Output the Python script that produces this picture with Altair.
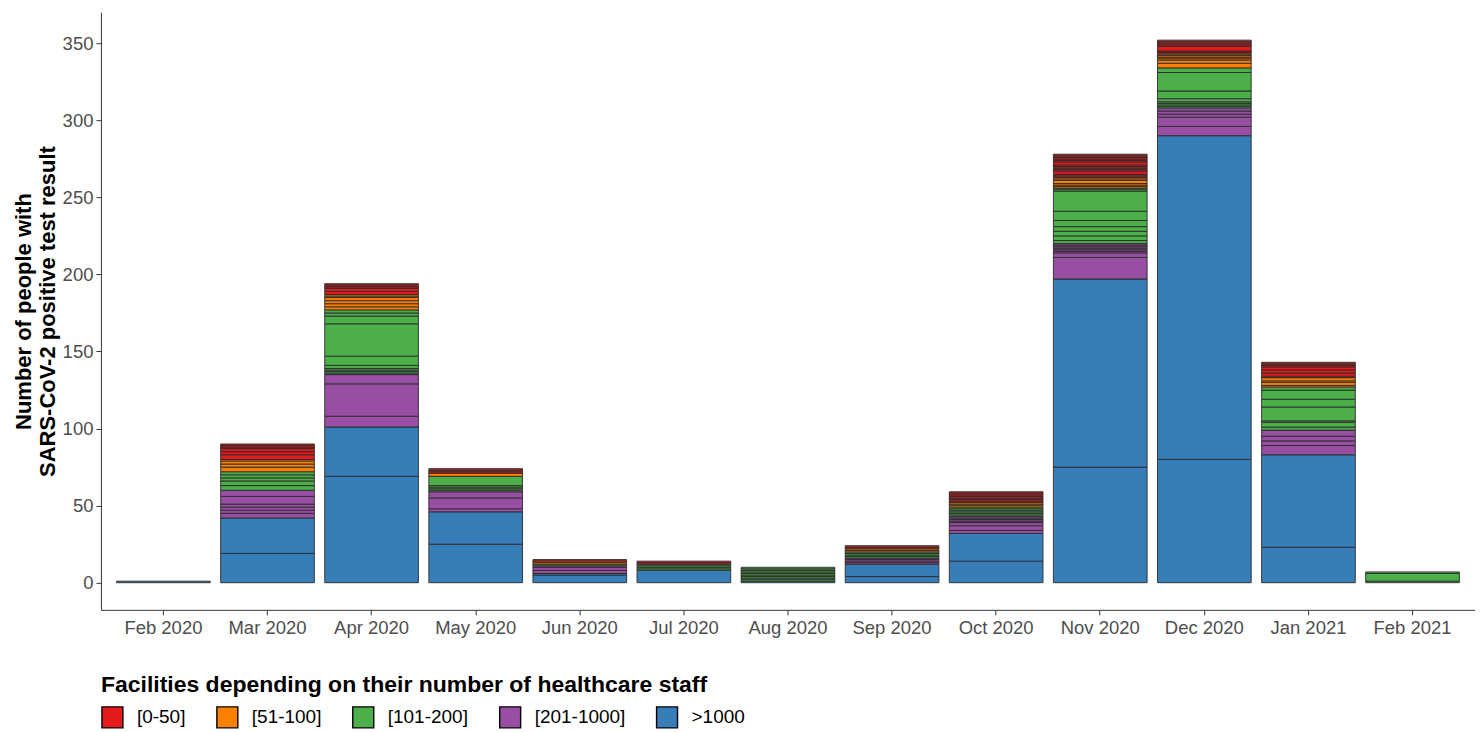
import altair as alt
import pandas as pd

months = ["Feb 2020", "Mar 2020", "Apr 2020", "May 2020", "Jun 2020", "Jul 2020",
          "Aug 2020", "Sep 2020", "Oct 2020", "Nov 2020", "Dec 2020", "Jan 2021", "Feb 2021"]

categories = ["[0-50]", "[51-100]", "[101-200]", "[201-1000]", ">1000"]
colors = ["#E41A1C", "#FF7F00", "#4DAF4A", "#984EA3", "#377EB8"]

# facility-level segments per month (one list per month), per staff-size category
seg_gt1000 = [[1], [19, 23], [69, 32], [25, 21], [5, 1], [8], [1], [4, 8], [14, 18],
              [75, 122], [80, 210], [23, 60], []]
seg_201_1000 = [[], [3, 2, 2, 2, 5, 4], [7, 21, 6], [2, 7, 4], [2, 2, 1], [], [], [1, 1, 1, 1],
                [2, 3, 2, 1, 1, 1, 1], [14, 3, 1, 1, 1, 1, 1, 1], [6, 6, 2, 2, 2], [6, 3, 3, 4], []]
seg_101_200 = [[], [3, 3, 2, 2, 2], [1, 1, 1, 1, 2, 6, 21, 5, 2, 2], [1, 1, 1, 1, 6], [1],
               [1, 1, 1, 1], [1, 1, 1, 1, 1, 1, 1, 1, 1], [1, 1, 1, 1], [1, 1, 1, 1, 1, 1],
               [2, 3, 3, 3, 4, 6, 13, 1, 1], [1, 1, 1, 1, 2, 5, 12, 3], [2, 3, 1, 9, 5, 6, 2], [1, 5, 1]]
seg_51_100 = [[], [3, 2, 2, 1], [2, 2, 2, 2, 1, 1], [2], [1, 1], [], [], [1, 1], [1, 1, 1],
              [1, 1, 1, 2, 1, 1], [3, 2, 1, 1, 1, 1], [1, 2, 1, 2], []]
seg_0_50 = [[], [3, 2, 2, 1, 1, 1], [2, 2, 1, 1, 1], [1, 1, 1], [1], [1, 1], [], [1, 1],
            [1, 1, 1, 1, 1, 1, 1], [1, 1, 2, 1, 1, 1, 1, 2, 1, 1, 1, 1, 1],
            [1, 1, 3, 1, 1, 1, 1], [1, 2, 2, 2, 1, 1, 1], []]

# stacking from bottom: >1000, 201-1000, 101-200, 51-100, 0-50
stack_groups = [(">1000", seg_gt1000), ("[201-1000]", seg_201_1000), ("[101-200]", seg_101_200),
                ("[51-100]", seg_51_100), ("[0-50]", seg_0_50)]

rows = []
for mi, m in enumerate(months):
    k = 0
    for cat, segs in stack_groups:
        for v in segs[mi]:
            rows.append({"month": m, "cat": cat, "value": v, "ord": k})
            k += 1
df = pd.DataFrame(rows)

font = "Liberation Sans"

chart = alt.Chart(df).mark_bar(stroke="#2b2b2b", strokeWidth=0.9).encode(
    x=alt.X("month:N", sort=months, title=None,
            scale=alt.Scale(paddingInner=0.1, paddingOuter=0.15),
            axis=alt.Axis(labelAngle=0, labelFontSize=18.5, labelColor="#4D4D4D", labelFont=font,
                          domainColor="#333333", tickColor="#333333", tickSize=5, labelPadding=4)),
    y=alt.Y("value:Q", stack="zero",
            title=["Number of people with", "SARS-CoV-2 positive test result"],
            scale=alt.Scale(domain=[-17.6, 370.1], nice=False, zero=False),
            axis=alt.Axis(values=[0, 50, 100, 150, 200, 250, 300, 350], grid=False,
                          labelFontSize=18.5, labelColor="#4D4D4D", labelFont=font,
                          domainColor="#333333", tickColor="#333333", tickSize=5,
                          titleFontSize=22, titleFont=font, titleFontWeight="bold",
                          titleColor="black", titlePadding=3, labelPadding=3,
                          titleLineHeight=24)),
    color=alt.Color("cat:N", scale=alt.Scale(domain=categories, range=colors),
                    legend=alt.Legend(title="Facilities depending on their number of healthcare staff",
                                      orient="none", legendX=0, legendY=662, direction="horizontal",
                                      titleFontSize=23, titleFont=font, titleFontWeight="bold",
                                      titleColor="black", titleLimit=1200, labelFontSize=19,
                                      labelFont=font, labelColor="black", labelLimit=300,
                                      symbolType="square", symbolSize=440,
                                      symbolStrokeColor="black", symbolStrokeWidth=1.4,
                                      symbolOpacity=1, columnPadding=28, labelOffset=13,
                                      titlePadding=9)),
    order=alt.Order("ord:Q", sort="ascending"),
).properties(
    width=1375, height=598, padding={"left": 4, "top": 4, "right": 0, "bottom": 0}
).configure_view(stroke=None)

chart.save("out.html", embed_options={"renderer": "svg", "actions": False})
